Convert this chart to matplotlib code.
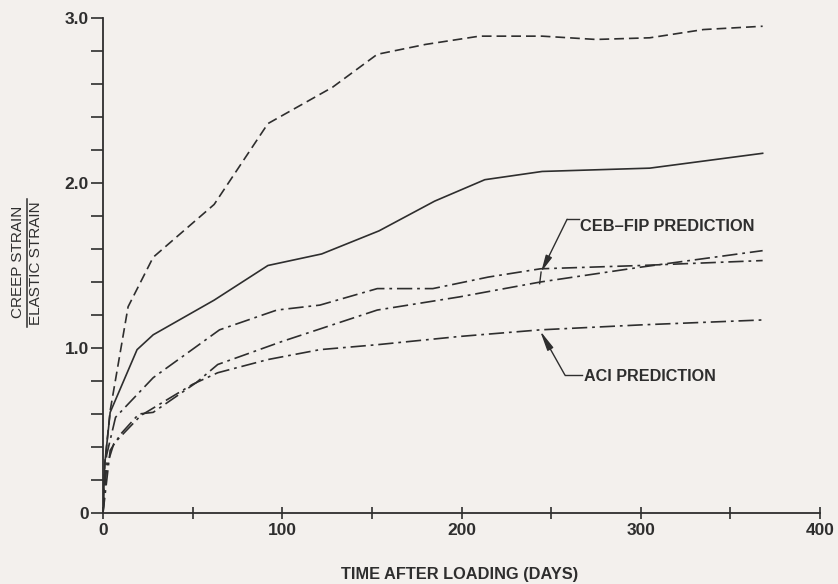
import numpy as np
import matplotlib
matplotlib.use("Agg")
import matplotlib.pyplot as plt
from matplotlib.patches import FancyArrowPatch

plt.rcParams['font.family'] = ['Liberation Sans', 'DejaVu Sans']
plt.rcParams['lines.scale_dashes'] = False

# ---------------- data ----------------
dashed_days = [0, 1, 4, 14, 28, 62, 92, 128, 153, 180, 210, 245, 275, 305, 335, 368]
dashed_vals = [0, 0.30, 0.62, 1.25, 1.55, 1.87, 2.36, 2.58, 2.78, 2.84, 2.89, 2.89, 2.87, 2.88, 2.93, 2.95]

solid_days = [0, 1, 4, 19, 28, 62, 92, 122, 154, 185, 213, 245, 305, 368]
solid_vals = [0, 0.30, 0.61, 0.99, 1.08, 1.29, 1.50, 1.57, 1.71, 1.89, 2.02, 2.07, 2.09, 2.18]

measured_dd_days = [0, 2, 7, 28, 65, 97, 121, 153, 184, 215, 244, 300, 368]
measured_dd_vals = [0, 0.35, 0.58, 0.82, 1.11, 1.23, 1.26, 1.36, 1.36, 1.43, 1.48, 1.50, 1.53]

ceb_days = [0, 4, 10, 20, 28, 52, 64, 100, 153, 199, 244, 300, 368]
ceb_vals = [0, 0.38, 0.48, 0.60, 0.61, 0.79, 0.90, 1.04, 1.23, 1.31, 1.40, 1.49, 1.59]

aci_days = [0, 2, 6, 21, 50, 64, 92, 121, 153, 199, 244, 300, 368]
aci_vals = [0, 0.28, 0.42, 0.59, 0.78, 0.85, 0.93, 0.99, 1.02, 1.07, 1.11, 1.14, 1.17]

x_tick_values = [0, 50, 100, 150, 200, 250, 300, 350, 400]
x_tick_labels = ['0', '', '100', '', '200', '', '300', '', '400']
y_tick_values = [0, 0.2, 0.4, 0.6, 0.8, 1.0, 1.2, 1.4, 1.6, 1.8, 2.0, 2.2, 2.4, 2.6, 2.8, 3.0]
y_tick_labels = ['0', '', '', '', '', '1.0', '', '', '', '', '2.0', '', '', '', '', '3.0']

x_label = 'TIME AFTER LOADING (DAYS)'
y_label_top = 'CREEP STRAIN'
y_label_bottom = 'ELASTIC STRAIN'
ceb_label = 'CEB\u2013FIP PREDICTION'
aci_label = 'ACI PREDICTION'

# ---------------- style ----------------
bg = '#f3f0ed'
ink = '#2e2e2e'
W, H = 838, 584

fig = plt.figure(figsize=(W / 100, H / 100), dpi=100, facecolor=bg)
ax = fig.add_axes([103 / W, 71 / H, 717 / W, 495 / H], facecolor=bg)

lw = 1.2
ax.plot(dashed_days, dashed_vals, color=ink, lw=lw, dashes=(7, 3.6))
ax.plot(solid_days, solid_vals, color=ink, lw=lw)
dd = (11, 3.5, 2, 3.5)
ax.plot(measured_dd_days, measured_dd_vals, color=ink, lw=lw, dashes=dd)
ax.plot(ceb_days, ceb_vals, color=ink, lw=lw, dashes=dd)
ax.plot(aci_days, aci_vals, color=ink, lw=lw, dashes=dd)

ax.set_xlim(0, 400)
ax.set_ylim(0, 3.0)
for s in ('top', 'right'):
    ax.spines[s].set_visible(False)
for s in ('left', 'bottom'):
    ax.spines[s].set_color(ink)
    ax.spines[s].set_linewidth(1.3)

ax.set_xticks(x_tick_values)
ax.set_xticklabels(x_tick_labels)
ax.set_yticks(y_tick_values)
ax.set_yticklabels(y_tick_labels)
ax.tick_params(axis='x', direction='inout', length=9, width=1.2, color=ink,
               pad=3, labelsize=12.5, labelcolor=ink)
ax.tick_params(axis='y', direction='out', length=9, width=1.2, color=ink,
               pad=1, labelsize=12.5, labelcolor=ink)
for t in ax.get_xticklabels() + ax.get_yticklabels():
    t.set_fontweight('bold')

fig.text(460 / W, 1 - 574 / H, x_label, ha='center', va='center',
         fontsize=11.8, fontweight='bold', color=ink)

# fraction-style y label
fig.text(25 / W, 1 - 262 / H, y_label_top, rotation=90, ha='right', va='center',
         fontsize=11, color=ink)
fig.text(28.5 / W, 1 - 263 / H, y_label_bottom, rotation=90, ha='left', va='center',
         fontsize=11, color=ink)
fig.add_artist(plt.Line2D([26.5 / W, 26.5 / W], [1 - 199 / H, 1 - 327 / H],
                          color=ink, lw=1.1, transform=fig.transFigure))

# annotations
ax.text(266.3, 1.735, ceb_label, ha='left', va='center', fontsize=11.8,
        fontweight='bold', color=ink)
ax.plot([265.5, 258.9], [1.78, 1.78], color=ink, lw=1.0)
ax.add_patch(FancyArrowPatch((258.9, 1.78), (244.4, 1.46), arrowstyle='-|>,head_length=1.0,head_width=0.2',
                             mutation_scale=10, color=ink, lw=1.0, shrinkA=0, shrinkB=0))
ax.plot([244.4, 243.6], [1.46, 1.39], color=ink, lw=1.0)

ax.text(268.2, 0.83, aci_label, ha='left', va='center', fontsize=11.6,
        fontweight='bold', color=ink)
ax.plot([267.5, 257.7], [0.836, 0.836], color=ink, lw=1.0)
ax.add_patch(FancyArrowPatch((257.7, 0.836), (243.8, 1.105), arrowstyle='-|>,head_length=1.2,head_width=0.2',
                             mutation_scale=10, color=ink, lw=1.0, shrinkA=0, shrinkB=0))

fig.savefig('out.png', dpi=100, facecolor=bg)
